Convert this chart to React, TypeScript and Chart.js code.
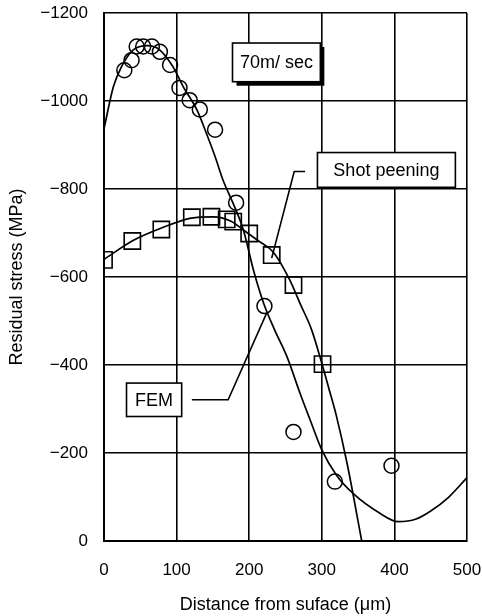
import React, { useEffect, useRef } from "react";
import { Chart, registerables } from "chart.js";

Chart.register(...registerables);

// ---- data ----
const xTickValues = [0, 100, 200, 300, 400, 500];
const yTickValues = [-1200, -1000, -800, -600, -400, -200, 0];

// 70 m/sec measured (circles)
const circleX = [28, 38, 45, 54, 66, 77, 91, 104, 118, 132, 153, 182, 221, 261, 318, 396];
const circleY = [-1070, -1093, -1124, -1124, -1124, -1112, -1082, -1030, -1002, -981, -935, -769, -534, -248, -135, -171];

// Shot peening measured (squares)
const squareX = [0, 39, 79, 121, 148, 169, 178, 200, 231, 261, 301];
const squareY = [-639, -682, -708, -736, -737, -731, -726, -699, -650, -582, -402];

// FEM curve for 70 m/sec
const femAX = [0, 13, 24, 40, 60, 77, 95, 109, 128, 141, 153, 164, 178, 192, 206, 220, 235, 252, 270, 284, 300, 320, 343, 380, 405, 430, 449, 475, 500];
const femAY = [-937, -1033, -1078, -1116, -1126, -1116, -1078, -1033, -980, -927, -874, -820, -767, -707, -615, -540, -480, -419, -336, -275, -207, -150, -108, -63, -44, -50, -67, -100, -144];

// FEM curve for shot peening
const femBX = [0, 40, 80, 120, 150, 175, 192, 212, 233, 256, 270, 286, 300, 310, 320, 335, 355];
const femBY = [-640, -683, -712, -734, -737, -727, -707, -683, -657, -593, -540, -480, -404, -345, -285, -175, 0];

// annotation labels
const noteTexts = ["70m/ sec", "Shot peening", "FEM"];
// box corners in data units [x1, y1, x2, y2]
const noteBoxes = [
  [177, -1132, 298, -1044],
  [294, -883, 484, -804],
  [31, -359, 107, -283],
];
// leader lines in data units
const noteLeaders = [
  [],
  [[277, -840], [262, -840], [231, -643]],
  [[121, -321], [171, -321], [224, -518]],
];

const FONT = '"Liberation Sans", Arial, Helvetica, sans-serif';

const pts = (xs: number[], ys: number[]) => xs.map((x, i) => ({ x, y: ys[i] }));

const notesPlugin = {
  id: "notes",
  afterDatasetsDraw(chart: any) {
    const { ctx, scales } = chart;
    const xs = scales.x;
    const ys = scales.y;
    ctx.save();
    ctx.strokeStyle = "#000";
    ctx.lineWidth = 1.6;
    noteLeaders.forEach((line) => {
      if (!line.length) return;
      ctx.beginPath();
      line.forEach(([dx, dy], i) => {
        const px = xs.getPixelForValue(dx);
        const py = ys.getPixelForValue(dy);
        if (i === 0) ctx.moveTo(px, py);
        else ctx.lineTo(px, py);
      });
      ctx.stroke();
    });
    noteBoxes.forEach(([x1, y1, x2, y2], i) => {
      const l = xs.getPixelForValue(x1);
      const r = xs.getPixelForValue(x2);
      const t = ys.getPixelForValue(y1);
      const b = ys.getPixelForValue(y2);
      if (i === 0) {
        ctx.fillStyle = "#000";
        ctx.fillRect(l + 4, t + 4, r - l, b - t);
      }
      ctx.fillStyle = "#fff";
      ctx.fillRect(l, t, r - l, b - t);
      ctx.strokeRect(l, t, r - l, b - t);
      ctx.fillStyle = "#000";
      ctx.font = `18px ${FONT}`;
      ctx.textAlign = "center";
      ctx.textBaseline = "middle";
      ctx.fillText(noteTexts[i], (l + r) / 2, (t + b) / 2 + 1);
    });
    ctx.restore();
  },
};

export default function App() {
  const ref = useRef<HTMLCanvasElement>(null);
  useEffect(() => {
    const chart = new Chart(ref.current!, {
      type: "line",
      data: {
        datasets: [
          {
            label: "FEM 70m/sec",
            data: pts(femAX, femAY),
            borderColor: "#000",
            borderWidth: 1.7,
            pointRadius: 0,
            cubicInterpolationMode: "monotone",
            fill: false,
          },
          {
            label: "FEM shot peening",
            data: pts(femBX, femBY),
            borderColor: "#000",
            borderWidth: 1.7,
            pointRadius: 0,
            cubicInterpolationMode: "monotone",
            fill: false,
          },
          {
            label: "70m/sec",
            data: pts(circleX, circleY),
            showLine: false,
            pointStyle: "circle",
            pointRadius: 7.5,
            pointBorderWidth: 1.5,
            pointBorderColor: "#000",
            pointBackgroundColor: "rgba(0,0,0,0)",
          },
          {
            label: "Shot peening",
            data: pts(squareX, squareY),
            showLine: false,
            pointStyle: "rect",
            pointRadius: 11.5,
            pointBorderWidth: 1.6,
            pointBorderColor: "#000",
            pointBackgroundColor: "rgba(0,0,0,0)",
          },
        ],
      },
      options: {
        animation: false,
        responsive: false,
        devicePixelRatio: 1,
        layout: { padding: { left: 0, right: 15, top: 13, bottom: 0 } },
        plugins: { legend: { display: false }, tooltip: { enabled: false } },
        scales: {
          x: {
            type: "linear",
            min: 0,
            max: 500,
            afterFit: (s: any) => {
              s.height = 75;
              s.paddingLeft = 0;
              s.paddingRight = 0;
            },
            afterBuildTicks: (s: any) => {
              s.ticks = xTickValues.map((v) => ({ value: v }));
            },
            ticks: {
              color: "#000",
              font: { family: FONT, size: 17 },
              padding: 19,
              maxRotation: 0,
            },
            grid: { color: "#000", lineWidth: 1.6, drawTicks: false },
            border: { color: "#000", width: 2 },
            title: {
              display: true,
              text: "Distance from suface (μm)",
              color: "#000",
              font: { family: FONT, size: 18 },
              padding: { top: 0, bottom: 0 },
            },
          },
          y: {
            type: "linear",
            min: -1200,
            max: 0,
            reverse: true,
            afterFit: (s: any) => {
              s.width = 104;
              s.paddingTop = 0;
              s.paddingBottom = 0;
            },
            afterBuildTicks: (s: any) => {
              s.ticks = yTickValues.map((v) => ({ value: v }));
            },
            ticks: {
              color: "#000",
              font: { family: FONT, size: 17 },
              padding: 16,
              callback: (v: any) => (Number(v) === 0 ? "0" : "\u2212" + Math.abs(Number(v))),
            },
            grid: { color: "#000", lineWidth: 1.6, drawTicks: false },
            border: { color: "#000", width: 2 },
            title: {
              display: true,
              text: "Residual stress (MPa)",
              color: "#000",
              font: { family: FONT, size: 18 },
              padding: { top: 6, bottom: 0 },
            },
          },
        },
      },
      plugins: [notesPlugin],
    } as any);
    return () => chart.destroy();
  }, []);
  return (
    <div style={{ position: "fixed", left: 0, top: 0, width: 482, height: 616, background: "#fff" }}>
      <canvas ref={ref} width={482} height={616} style={{ width: 482, height: 616, display: "block" }} />
    </div>
  );
}
